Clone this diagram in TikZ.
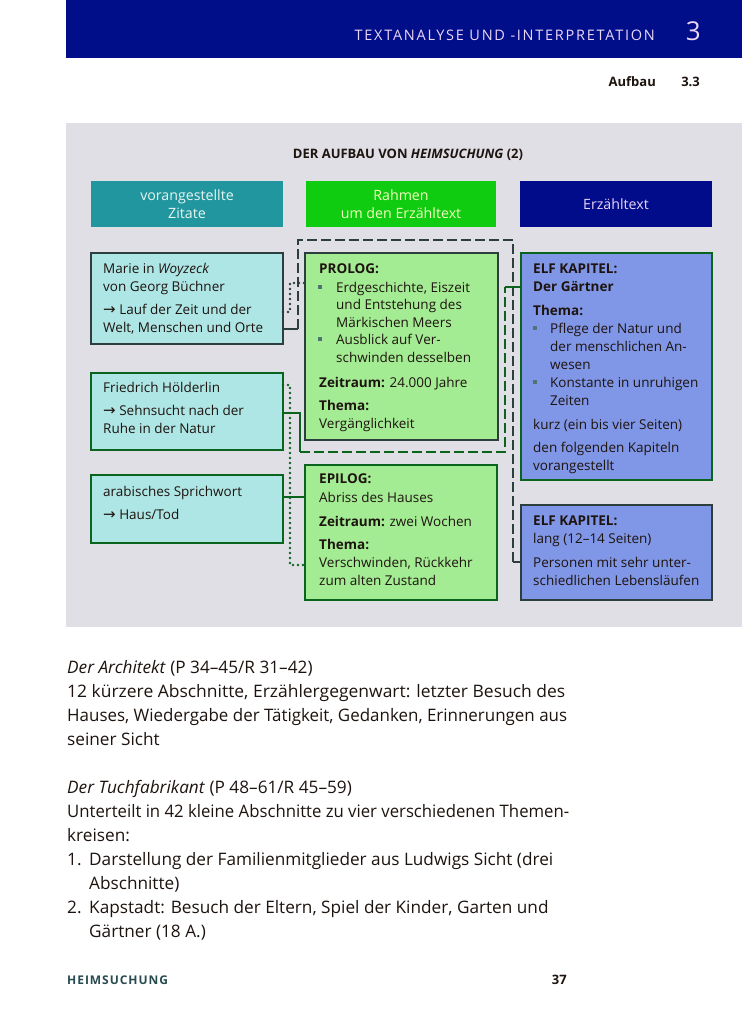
\documentclass[tikz,border=0pt]{standalone}
\usepackage{fontspec}
\usepackage{graphicx}
\setmainfont{Open Sans}
\newfontfamily\arrowfont{DejaVu Sans}
\newfontfamily\spacedfont[LetterSpace=12]{Open Sans}
\newfontfamily\footfont[LetterSpace=8]{Open Sans}
\usetikzlibrary{calc}
\definecolor{barblue}{RGB}{0,14,138}
\definecolor{headtxt}{RGB}{236,214,246}
\definecolor{panel}{RGB}{224,223,230}
\definecolor{tealh}{RGB}{34,150,158}
\definecolor{greenh}{RGB}{16,204,16}
\definecolor{navyh}{RGB}{0,12,138}
\definecolor{cyanf}{RGB}{174,230,230}
\definecolor{greenf}{RGB}{164,236,148}
\definecolor{bluef}{RGB}{128,150,230}
\definecolor{grayb}{RGB}{45,62,62}
\definecolor{greenb}{RGB}{10,100,30}
\definecolor{txtc}{RGB}{30,20,15}
\definecolor{footc}{RGB}{40,75,80}
\definecolor{bulc}{RGB}{80,115,115}
\newcommand\myarr{{\arrowfont\fontsize{15}{15}\selectfont →}}
\newcommand\fitline[2]{\resizebox{#1}{\height}{#2}}
\tikzset{
  bx/.style={draw, line width=2.4pt, anchor=north west, inner sep=0pt, outer sep=0pt},
  hd/.style={anchor=north west, inner sep=0pt, outer sep=0pt, minimum height=46pt},
  tl/.style={anchor=base west, inner sep=0pt, font=\fontsize{13.5}{16}\selectfont, text=txtc},
  htl/.style={anchor=base, inner sep=0pt, font=\fontsize{14.2}{16}\selectfont},
  bt/.style={anchor=base west, inner sep=0pt, font=\fontsize{17.2}{24}\selectfont, text=txtc},
  con/.style={line width=2pt},
  dashc/.style={line width=2pt, dash pattern=on 10pt off 4pt},
  dotc/.style={line width=2.8pt, dash pattern=on 0pt off 5pt, line cap=round},
}
\begin{document}
\begin{tikzpicture}[x=1pt,y=-1pt]
\useasboundingbox (0,0) rectangle (742,1020);
\fill[white] (0,0) rectangle (742,1020);
% header bar
\fill[barblue] (66,0) rectangle (742,57.5);
\node[anchor=base east, inner sep=0pt, text=headtxt, font=\spacedfont\fontsize{14.5}{14}\selectfont] (sect) at (655,40.5) {TEXTANALYSE UND -INTERPRETATION};
\node[anchor=base east, inner sep=0pt, text=headtxt, font=\fontsize{26}{26}\selectfont] (chap) at (701,40.5) {3};
\node[anchor=base east, inner sep=0pt, text=txtc, font=\bfseries\fontsize{13}{13}\selectfont] (auf) at (656,86) {Aufbau};
\node[anchor=base east, inner sep=0pt, text=txtc, font=\bfseries\fontsize{13}{13}\selectfont] (secn) at (700,86) {3.3};
% panel
\fill[panel] (66,123) rectangle (742,627);
\node[anchor=base, inner sep=0pt, text=txtc, font=\bfseries\fontsize{13}{13}\selectfont] (title) at (408,158) {DER AUFBAU VON \textit{HEIMSUCHUNG} (2)};
% column headers
\node[hd, fill=tealh, minimum width=192pt] (hz) at (91,181) {};
\node[hd, fill=greenh, minimum width=190pt] (hr) at (306,181) {};
\node[hd, fill=navyh, minimum width=192pt] (he) at (520,181) {};
\node[htl, text={rgb,255:red,230;green,246;blue,242}] (hz1) at (187,200) {vorangestellte};
\node[htl, text={rgb,255:red,230;green,246;blue,242}] (hz2) at (187,218) {Zitate};
\node[htl, text={rgb,255:red,242;green,255;blue,190}] (hr1) at (401,200) {Rahmen};
\node[htl, text={rgb,255:red,242;green,255;blue,190}] (hr2) at (401,218) {um den Erzähltext};
\node[htl, text=headtxt] (he1) at (616,209) {Erzähltext};
% waypoints
\coordinate (d1) at (298,329);
\coordinate (d2) at (298,240);
\coordinate (d3) at (513,240);
\coordinate (d4) at (513,562);
\coordinate (g1) at (300,413);
\coordinate (g2) at (300,452);
\coordinate (g3) at (505,452);
\coordinate (g4) at (505,287);
\coordinate (o1) at (290,312);
\coordinate (o2) at (290,283);
\coordinate (p1) at (290,385);
\coordinate (p2) at (290,565);
\coordinate (s1) at (294,497);
% boxes
\node[bx, fill=cyanf, draw=grayb, minimum width=192pt, minimum height=91pt] (q1) at (91,253) {};
\node[bx, fill=cyanf, draw=greenb, minimum width=192pt, minimum height=77pt] (q2) at (91,373) {};
\node[bx, fill=cyanf, draw=greenb, minimum width=192pt, minimum height=68pt] (q3) at (91,475) {};
\node[bx, fill=greenf, draw=grayb, minimum width=193pt, minimum height=187pt] (pro) at (305,253) {};
\node[bx, fill=greenf, draw=greenb, minimum width=192pt, minimum height=135pt] (epi) at (305,465) {};
\node[bx, fill=bluef, draw=greenb, minimum width=191pt, minimum height=227pt] (k1) at (521,253) {};
\node[bx, fill=bluef, draw=grayb, minimum width=191pt, minimum height=95pt] (k2) at (521,505) {};
% connectors
\draw[con, grayb] (q1.east |- d1) -- (d1);
\draw[dashc, grayb] (d1) -- (d2) -- (d3) -- (d4);
\draw[con, grayb] (d4) -- (k2.west |- d4);
\draw[con, greenb] (q2.east |- g1) -- (g1) -- (g2);
\draw[dashc, greenb] (g2) -- (g3) -- (g4);
\draw[con, greenb] (g4) -- (k1.west |- g4);
\draw[dotc, grayb] (q1.east |- o1) -- (o1) -- (o2) -- (pro.west |- o2);
\draw[dotc, greenb] (q2.east |- p1) -- (p1) -- (p2) -- (epi.west |- p2);
\draw[con, greenb] (q3.east |- s1) -- (epi.west |- s1);
% quote texts
\node[tl] (q1a) at (103,273) {Marie in \textit{Woyzeck}};
\node[tl] (q1b) at (103,291) {von Georg Büchner};
\node[tl] (q1c) at (103,314) {\myarr\ Lauf der Zeit und der};
\node[tl] (q1d) at (103,332) {Welt, Menschen und Orte};
\node[tl] (q2a) at (103,392) {Friedrich Hölderlin};
\node[tl] (q2b) at (103,415) {\myarr\ Sehnsucht nach der};
\node[tl] (q2c) at (103,433) {Ruhe in der Natur};
\node[tl] (q3a) at (103,496) {arabisches Sprichwort};
\node[tl] (q3b) at (103,519) {\myarr\ Haus/Tod};
% prolog
\node[tl] (pa) at (319,273) {\textbf{PROLOG:}};
\node[tl] (pb) at (336,292) {Erdgeschichte, Eiszeit};
\node[tl] (pc) at (336,309) {und Entstehung des};
\node[tl] (pd) at (336,327) {Märkischen Meers};
\node[tl] (pe) at (336,344) {Ausblick auf Ver-};
\node[tl] (pf) at (336,362) {schwinden desselben};
\node[tl] (pg) at (319,387) {\textbf{Zeitraum:} 24.000 Jahre};
\node[tl] (ph) at (319,410) {\textbf{Thema:}};
\node[tl] (pi) at (319,428) {Vergänglichkeit};
\fill[bulc] (318,285) rectangle (322,289);
\fill[bulc] (318,337) rectangle (322,341);
% epilog
\node[tl] (ea) at (319,483) {\textbf{EPILOG:}};
\node[tl] (eb) at (319,502) {Abriss des Hauses};
\node[tl] (ec) at (319,526) {\textbf{Zeitraum:} zwei Wochen};
\node[tl] (ed) at (319,549) {\textbf{Thema:}};
\node[tl] (ee) at (319,567) {Verschwinden, Rückkehr};
\node[tl] (ef) at (319,585) {zum alten Zustand};
% elf kapitel 1
\node[tl] (ka) at (533,273) {\textbf{ELF KAPITEL:}};
\node[tl] (kb) at (533,291) {\textbf{Der Gärtner}};
\node[tl] (kc) at (533,315) {\textbf{Thema:}};
\node[tl] (kd) at (550,333) {Pflege der Natur und};
\node[tl] (ke) at (550,351) {der menschlichen An-};
\node[tl] (kf) at (550,369) {wesen};
\node[tl] (kg) at (550,387) {Konstante in unruhigen};
\node[tl] (kh) at (550,405) {Zeiten};
\node[tl] (ki) at (533,429) {kurz (ein bis vier Seiten)};
\node[tl] (kj) at (533,452) {den folgenden Kapiteln};
\node[tl] (kk) at (533,470) {vorangestellt};
\fill[bulc] (533,326) rectangle (537,330);
\fill[bulc] (533,380) rectangle (537,384);
% elf kapitel 2
\node[tl] (la) at (533,525) {\textbf{ELF KAPITEL:}};
\node[tl] (lb) at (533,543) {lang (12–14 Seiten)};
\node[tl] (lc) at (533,567) {Personen mit sehr unter-};
\node[tl] (ld) at (533,585) {schiedlichen Lebensläufen};
% body text
\node[bt] (b1) at (67,673) {\textit{Der Architekt} (P 34–45/R 31–42)};
\node[bt] (b2) at (67,697) {\fitline{498pt}{12 kürzere Abschnitte, Erzählergegenwart: letzter Besuch des}};
\node[bt] (b3) at (67,721) {\fitline{500pt}{Hauses, Wiedergabe der Tätigkeit, Gedanken, Erinnerungen aus}};
\node[bt] (b4) at (67,745) {seiner Sicht};
\node[bt] (b5) at (67,793) {\textit{Der Tuchfabrikant} (P 48–61/R 45–59)};
\node[bt] (b6) at (67,817) {\fitline{502pt}{Unterteilt in 42 kleine Abschnitte zu vier verschiedenen Themen-}};
\node[bt] (b7) at (67,841) {kreisen:};
\node[bt] (b8n) at (67,865) {1.};
\node[bt] (b8) at (89,865) {Darstellung der Familienmitglieder aus Ludwigs Sicht (drei};
\node[bt] (b9) at (89,889) {Abschnitte)};
\node[bt] (b10n) at (67,913) {2.};
\node[bt] (b10) at (89,913) {Kapstadt: Besuch der Eltern, Spiel der Kinder, Garten und};
\node[bt] (b11) at (89,937) {Gärtner (18 A.)};
% footer
\node[anchor=base west, inner sep=0pt, text=footc, font=\footfont\bfseries\fontsize{12}{12}\selectfont] (foot) at (67,984) {HEIMSUCHUNG};
\node[anchor=base east, inner sep=0pt, text=txtc, font=\bfseries\fontsize{13}{13}\selectfont] (page) at (567,984) {37};
\end{tikzpicture}
\end{document}
